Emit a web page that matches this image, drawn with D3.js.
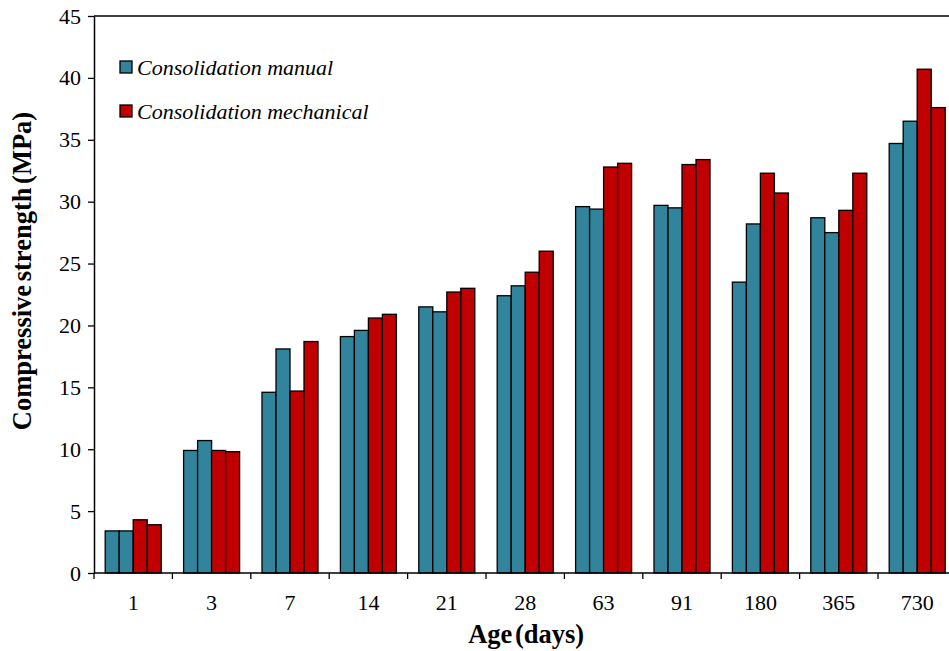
<!DOCTYPE html>
<html>
<head>
<meta charset="utf-8">
<script src="https://cdn.jsdelivr.net/npm/d3@7"></script>
<style>
  html, body { margin: 0; padding: 0; background: #fff; }
  svg { display: block; }
  svg text { font-family: "Liberation Serif", "Times New Roman", Times, serif !important; fill: #000; }
</style>
</head>
<body>
<svg id="chart" width="949" height="651"></svg>
<script>
const ages = ["1", "3", "7", "14", "21", "28", "63", "91", "180", "365", "730"];
const seriesNames = ["manual1", "manual2", "mechanical1", "mechanical2"];
const manual1 = [3.4, 9.9, 14.6, 19.1, 21.5, 22.4, 29.6, 29.7, 23.5, 28.7, 34.7];
const manual2 = [3.4, 10.7, 18.1, 19.6, 21.1, 23.2, 29.4, 29.5, 28.2, 27.5, 36.5];
const mechanical1 = [4.3, 9.9, 14.7, 20.6, 22.7, 24.3, 32.8, 33.0, 32.3, 29.3, 40.7];
const mechanical2 = [3.9, 9.8, 18.7, 20.9, 23.0, 26.0, 33.1, 33.4, 30.7, 32.3, 37.6];
const yTicks = [0, 5, 10, 15, 20, 25, 30, 35, 40, 45];
const legendLabels = ["Consolidation manual", "Consolidation mechanical"];
const colors = { manual: "#31849B", mechanical: "#C00000" };

const seriesValues = [manual1, manual2, mechanical1, mechanical2];
const seriesColor = [colors.manual, colors.manual, colors.mechanical, colors.mechanical];

(function () {
const FONT = "'Liberation Serif', 'Times New Roman', Times, serif";
const svg = d3.select("#chart");
const mLeft = 94, mTop = 16, mBottom = 573;
const step = 78.4;
const mRight = mLeft + step * ages.length;

const x0 = d3.scaleBand().domain(ages).range([mLeft, mRight]).padding(0);
const x1 = d3.scaleBand().domain(seriesNames).range([0, x0.bandwidth()])
  .paddingInner(0).paddingOuter(0.8);
const y = d3.scaleLinear().domain([0, 45]).range([mBottom, mTop]);

// frame
svg.append("line").attr("x1", mLeft).attr("x2", mRight).attr("y1", mTop).attr("y2", mTop)
  .attr("stroke", "#000").attr("stroke-width", 1.5);
svg.append("line").attr("x1", mRight).attr("x2", mRight).attr("y1", mTop).attr("y2", mBottom)
  .attr("stroke", "#000").attr("stroke-width", 1.5);

// bars
const groups = svg.append("g").selectAll("g").data(ages).join("g")
  .attr("transform", d => `translate(${x0(d)},0)`);
groups.selectAll("rect")
  .data((d, i) => seriesNames.map((s, j) => ({ s, j, v: seriesValues[j][i] })))
  .join("rect")
  .attr("x", d => x1(d.s))
  .attr("width", x1.bandwidth())
  .attr("y", d => y(d.v))
  .attr("height", d => y(0) - y(d.v))
  .attr("fill", d => seriesColor[d.j])
  .attr("stroke", "#000")
  .attr("stroke-width", 1.3);

// y axis
const yAxis = svg.append("g").attr("transform", `translate(${mLeft},0)`)
  .call(d3.axisLeft(y).tickValues(yTicks).tickSize(6).tickPadding(7).tickSizeOuter(0));
yAxis.attr("font-family", FONT);
yAxis.select(".domain").attr("stroke", "#000").attr("stroke-width", 1.5);
yAxis.selectAll(".tick line").attr("stroke", "#000").attr("stroke-width", 1.3);
yAxis.selectAll(".tick text").attr("font-family", FONT).style("font-family", FONT).style("font-size", "22px");

// x axis with ticks at band boundaries
const xAxisG = svg.append("g").attr("transform", `translate(0,${mBottom})`);
xAxisG.append("line").attr("x1", mLeft).attr("x2", mRight).attr("y1", 0).attr("y2", 0)
  .attr("stroke", "#000").attr("stroke-width", 1.5);
const boundaries = ages.map(a => x0(a)).concat([mRight]);
xAxisG.selectAll("line.tk").data(boundaries).join("line").attr("class", "tk")
  .attr("x1", d => d).attr("x2", d => d).attr("y1", 0).attr("y2", 6)
  .attr("stroke", "#000").attr("stroke-width", 1.3);
xAxisG.selectAll("text.lbl").data(ages).join("text").attr("class", "lbl")
  .attr("x", d => x0(d) + x0.bandwidth() / 2)
  .attr("y", 37)
  .attr("text-anchor", "middle")
  .style("font-family", FONT)
  .style("font-size", "22px")
  .text(d => d);

// axis titles
svg.append("text")
  .attr("x", (mLeft + mRight) / 2 + 1).attr("y", 643)
  .attr("text-anchor", "middle")
  .style("font-family", FONT)
  .style("font-size", "26.5px").style("font-weight", "bold")
  .style("word-spacing", "-4px")
  .text("Age (days)");

svg.append("text")
  .attr("transform", "translate(31,271) rotate(-90)")
  .attr("text-anchor", "middle")
  .style("font-family", FONT)
  .style("font-size", "26.5px").style("font-weight", "bold")
  .style("word-spacing", "-3px")
  .text("Compressive strength (MPa)");

// legend
const legend = svg.append("g");
const legendColors = [colors.manual, colors.mechanical];
legendLabels.forEach((lab, i) => {
  const ly = 67 + i * 44;
  legend.append("rect").attr("x", 120).attr("y", ly - 6).attr("width", 12).attr("height", 12)
    .attr("fill", legendColors[i]).attr("stroke", "#000").attr("stroke-width", 1.3);
  legend.append("text").attr("x", 137).attr("y", ly + 8)
    .style("font-family", FONT)
    .style("font-size", "22px").style("font-style", "italic")
    .text(lab);
});
})();
</script>
</body>
</html>
